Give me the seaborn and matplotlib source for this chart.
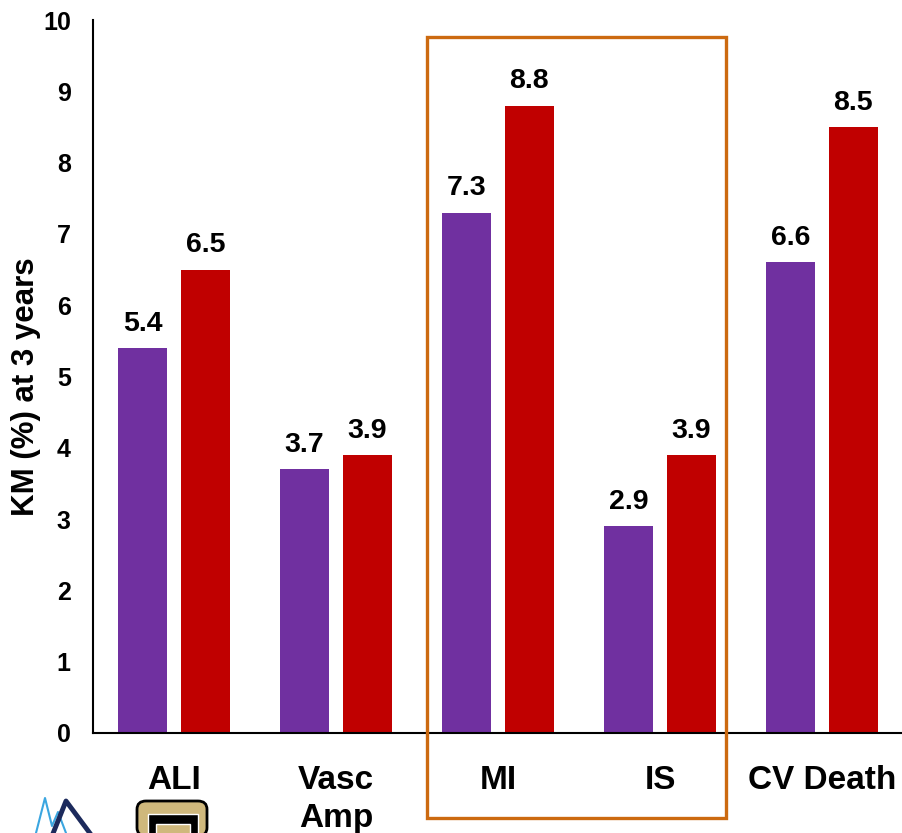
import matplotlib
matplotlib.use("Agg")
import matplotlib.pyplot as plt
import seaborn as sns
import pandas as pd
from matplotlib.patches import Rectangle, FancyBboxPatch
from matplotlib.lines import Line2D

# Outcome categories and Kaplan-Meier rates (%) at 3 years
categories = ["ALI", "Vasc\nAmp", "MI", "IS", "CV Death"]
series_names = ["Series 1", "Series 2"]
series_1 = [5.4, 3.7, 7.3, 2.9, 6.6]
series_2 = [6.5, 3.9, 8.8, 3.9, 8.5]
y_ticks = list(range(0, 11))
colors = ["#7030A0", "#C00000"]

df = pd.DataFrame({
    "category": categories * 2,
    "series": [series_names[0]] * len(categories) + [series_names[1]] * len(categories),
    "value": series_1 + series_2,
})

sns.set_theme(style="white")
plt.rcParams["font.family"] = ["Liberation Sans", "DejaVu Sans"]

W, H = 903, 833
fig = plt.figure(figsize=(W / 100, H / 100), dpi=100)
ax = fig.add_axes([93 / W, 1 - 733 / H, 810 / W, 713 / H])

sns.barplot(data=df, x="category", y="value", hue="series", order=categories,
            hue_order=series_names, palette=colors, saturation=1,
            width=0.776, gap=0.222, linewidth=0, legend=False, ax=ax)

ax.set_ylim(0, 10)
ax.set_xlim(-0.5, len(categories) - 0.5)
ax.set_yticks(y_ticks)
ax.set_yticklabels([str(t) for t in y_ticks], fontsize=18, fontweight="bold")
ax.set_xticklabels(categories, fontsize=24, fontweight="bold", linespacing=1.3)
ax.tick_params(axis="y", length=0, pad=16, colors="black")
ax.tick_params(axis="x", length=0, pad=23, colors="black")

for side in ("top", "right"):
    ax.spines[side].set_visible(False)
for side in ("left", "bottom"):
    ax.spines[side].set_color("black")
    ax.spines[side].set_linewidth(1.5)

ax.set_xlabel("")
ax.set_ylabel("KM (%) at 3 years", fontsize=22.5, fontweight="bold", color="black")
ax.yaxis.set_label_coords((41 - 93) / 810, (733 - 387) / 713)

for container in ax.containers:
    ax.bar_label(container, fmt="%.1f", padding=8, fontsize=20.5,
                 fontweight="bold", color="black")

# Highlight box around MI and IS
fig.add_artist(Rectangle((427 / W, 1 - 818 / H), 299 / W, 781 / H,
                         transform=fig.transFigure, fill=False,
                         edgecolor="#CC6A10", linewidth=2.4, clip_on=False))

# Small logos at the lower left
def fx(px):
    return px / W

def fy(py):
    return 1 - py / H

fig.add_artist(Line2D([fx(36), fx(45), fx(52), fx(58), fx(66)],
                      [fy(833), fy(798), fy(826), fy(812), fy(833)],
                      transform=fig.transFigure, color="#3BA6E0", lw=1.5))
fig.add_artist(Line2D([fx(52), fx(66), fx(92)],
                      [fy(836), fy(801), fy(836)],
                      transform=fig.transFigure, color="#1C2A5C", lw=3.5))
fig.add_artist(FancyBboxPatch((fx(137), fy(836)), fx(70), 35 / H,
                              boxstyle="round,pad=0,rounding_size=0.01",
                              transform=fig.transFigure, facecolor="#CFB87C",
                              edgecolor="black", linewidth=2))
fig.add_artist(Rectangle((fx(148), fy(836)), fx(50), 22 / H,
                         transform=fig.transFigure, facecolor="black"))
fig.add_artist(Rectangle((fx(156), fy(836)), fx(34), 12 / H,
                         transform=fig.transFigure, facecolor="#CFB87C"))

fig.savefig("out.png", dpi=100)
